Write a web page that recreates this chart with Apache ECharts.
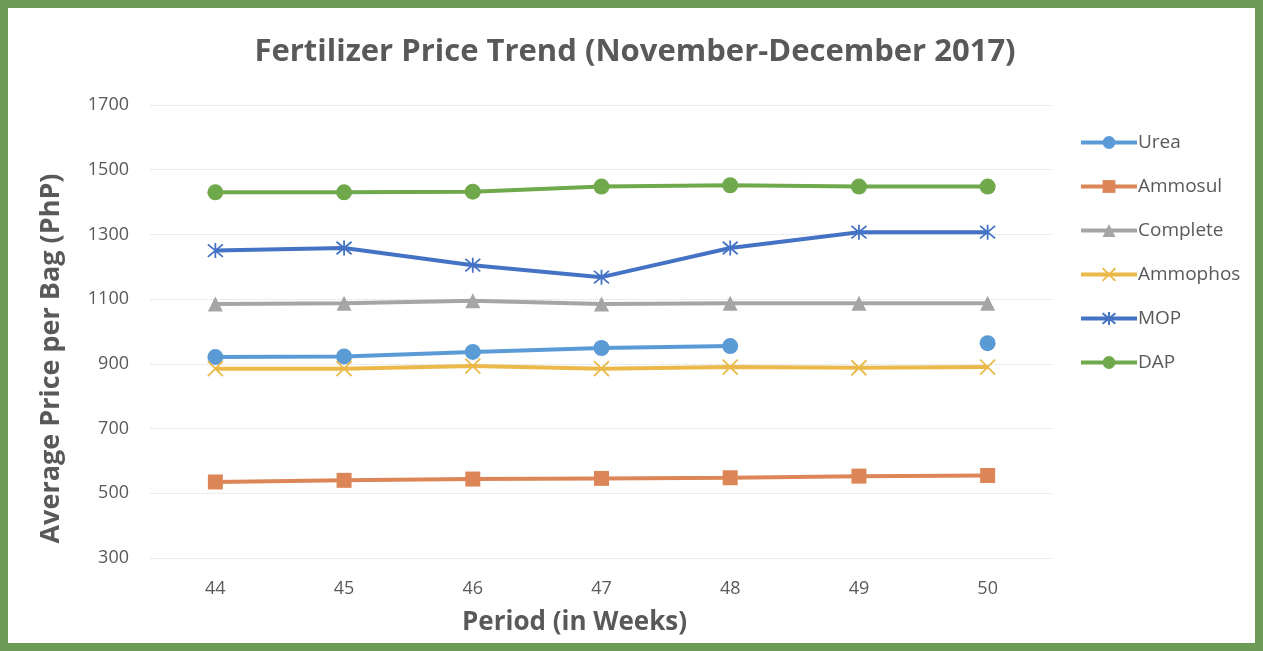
<!DOCTYPE html>
<html>
<head>
<meta charset="utf-8">
<script src="https://cdn.jsdelivr.net/npm/echarts@6/dist/echarts.min.js"></script>
<style>
  html, body { margin: 0; padding: 0; background: #fff; }
  #app { width: 1263px; height: 651px; box-sizing: border-box; border: 8px solid #6e9b55; background: #fff; }
</style>
</head>
<body>
<div id="app"></div>
<script>
var weeks = ['44', '45', '46', '47', '48', '49', '50'];
var urea = [921, 923, 937, 949, 955, null, 964];
var ammosul = [535, 540, 544, 546, 548, 553, 555];
var complete = [1085, 1087, 1095, 1085, 1087, 1087, 1087];
var ammophos = [885, 885, 893, 885, 890, 888, 890];
var mop = [1250, 1258, 1205, 1168, 1258, 1307, 1307];
var dap = [1430, 1430, 1432, 1448, 1452, 1448, 1448];

var names = ['Urea', 'Ammosul', 'Complete', 'Ammophos', 'MOP', 'DAP'];
var values = [urea, ammosul, complete, ammophos, mop, dap];
var colors = ['#5b9bd5', '#dc8658', '#a5a5a5', '#ebb94a', '#4472c4', '#70a84c'];
var symbols = [
    'circle',
    'rect',
    'triangle',
    'path://M0,0L10,10M10,0L0,10',
    'path://M0,0L10,10M10,0L0,10M5,-1L5,11',
    'circle'
];
var sizes = [16, 15, 15, 15, 15, 16];

var font = '"Open Sans", "Liberation Sans", sans-serif';

function buildSeries() {
    return names.map(function (n, i) {
        return {
            name: n,
            type: 'line',
            data: values[i],
            connectNulls: false,
            symbol: symbols[i],
            symbolSize: sizes[i],
            showAllSymbol: true,
            lineStyle: { width: 4, color: colors[i] },
            itemStyle: { color: colors[i], borderColor: colors[i], borderWidth: i === 3 || i === 4 ? 1.8 : 0 }
        };
    });
}

var option = {
    backgroundColor: '#fff',
    animation: false,
    color: colors,
    title: {
        text: 'Fertilizer Price Trend (November-December 2017)',
        left: 622,
        textAlign: 'center',
        top: 24,
        textStyle: { fontFamily: font, fontSize: 31, fontWeight: 'bold', color: '#595959' }
    },
    legend: {
        orient: 'vertical',
        left: 1066,
        top: 120,
        itemGap: 25,
        itemWidth: 56,
        itemHeight: 16,
        lineStyle: { width: 4 },
        textStyle: { fontFamily: font, fontSize: 19, color: '#595959', padding: [0, 0, 0, -4] },
        data: names
    },
    grid: {
        left: 143,
        right: 203,
        top: 97,
        bottom: 85,
        containLabel: false
    },
    xAxis: {
        type: 'category',
        data: weeks,
        boundaryGap: true,
        name: 'Period (in Weeks)',
        nameLocation: 'middle',
        nameGap: 52,
        nameTextStyle: { fontFamily: font, fontSize: 26, fontWeight: 'bold', color: '#595959', padding: [0, 54, 0, 0] },
        axisLine: { show: false },
        axisTick: { show: false },
        axisLabel: { fontFamily: font, fontSize: 18, color: '#595959', margin: 22 }
    },
    yAxis: {
        type: 'value',
        min: 300,
        max: 1700,
        interval: 200,
        name: 'Average Price per Bag (PhP)',
        nameLocation: 'middle',
        nameGap: 86,
        nameTextStyle: { fontFamily: font, fontSize: 27, fontWeight: 'bold', color: '#595959', padding: [0, 54, 0, 0] },
        axisLine: { show: false },
        axisTick: { show: false },
        axisLabel: {
            fontFamily: font, fontSize: 18, color: '#595959', margin: 22,
            formatter: function (v) { return String(v); }
        },
        splitLine: { lineStyle: { color: '#d6d9e0', width: 1, type: 'dotted' } }
    },
    series: buildSeries()
};

var myChart = echarts.init(document.getElementById('app'));
myChart.setOption(option);
</script>
</body>
</html>
